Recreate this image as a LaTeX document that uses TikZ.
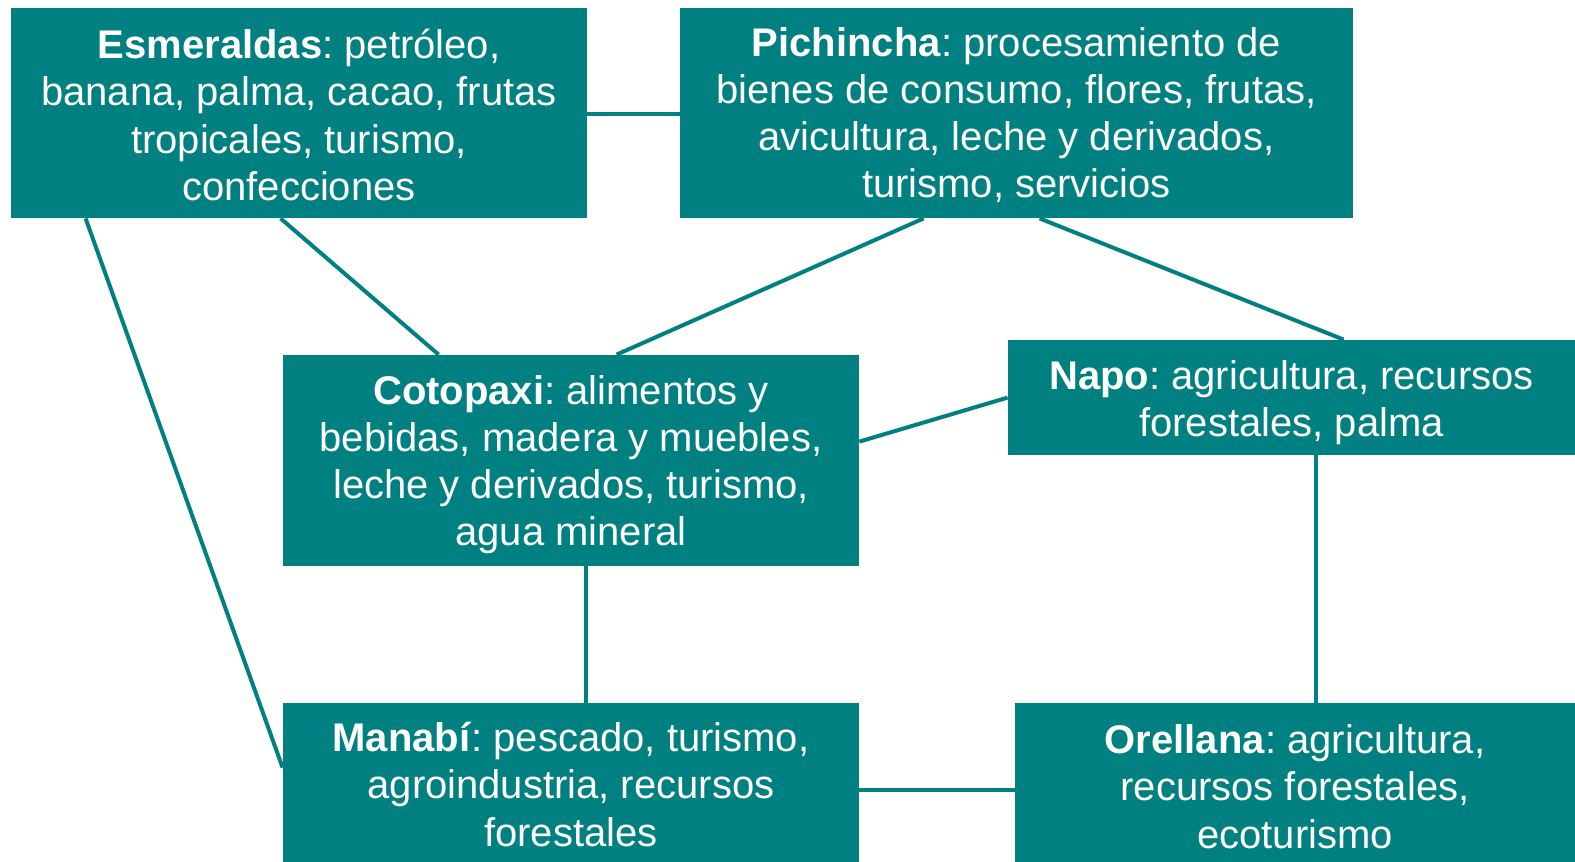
\documentclass[tikz,border=0pt]{standalone}
\usepackage{fontspec}
\setmainfont{Liberation Sans}
\frenchspacing
\definecolor{teal1}{RGB}{0,128,128}
\begin{document}
\begin{tikzpicture}[x=0.5pt,y=-0.5pt,
  box/.style={fill=teal1, inner sep=0pt},
  txt/.style={text=white, inner sep=0pt, align=center,
    font=\fontsize{20pt}{23.6pt}\selectfont},
  link/.style={draw=teal1, line width=2pt}]
\useasboundingbox (0,0) rectangle (1575,862);
\node[box, minimum width=288pt, minimum height=105pt,
  label={[txt,yshift=-1pt]center:\textbf{Esmeraldas}: petróleo,\\banana, palma, cacao, frutas\\tropicales, turismo,\\confecciones}] (esm) at (299,113) {};
\node[box, minimum width=336.5pt, minimum height=105pt,
  label={[txt,yshift=-1pt]center:\textbf{Pichincha}: procesamiento de\\bienes de consumo, flores, frutas,\\avicultura, leche y derivados,\\turismo, servicios}] (pich) at (1016.5,113) {};
\node[box, minimum width=288pt, minimum height=105.5pt,
  label={[txt,yshift=-2pt]center:\textbf{Cotopaxi}: alimentos y\\bebidas, madera y muebles,\\leche y derivados, turismo,\\agua mineral}] (coto) at (571,460.5) {};
\node[box, minimum width=283.5pt, minimum height=57.5pt,
  label={[txt,yshift=-2.5pt]center:\textbf{Napo}: agricultura, recursos\\forestales, palma}] (napo) at (1291.5,397.5) {};
\node[box, minimum width=288pt, minimum height=79.5pt,
  label={[txt,yshift=-1pt]center:\textbf{Manabí}: pescado, turismo,\\agroindustria, recursos\\forestales}] (mana) at (571,782.5) {};
\node[box, minimum width=280pt, minimum height=79.5pt,
  label={[txt,yshift=-2pt]center:\textbf{Orellana}: agricultura,\\recursos forestales,\\ecoturismo}] (orel) at (1295,782.5) {};
\draw[link] ([yshift=-53pt]esm.north east) -- ([yshift=-53pt]pich.north west);
\draw[link] ([xshift=135pt]esm.south west) -- ([xshift=78pt]coto.north west);
\draw[link] ([xshift=37.5pt]esm.south west) -- ([yshift=-32.5pt]mana.north west);
\draw[link] ([xshift=122pt]pich.south west) -- ([xshift=167pt]coto.north west);
\draw[link] ([xshift=180pt]pich.south west) -- ([xshift=168pt]napo.north west);
\draw[link] ([yshift=-43.5pt]coto.north east) -- ([yshift=-29pt]napo.north west);
\draw[link] ([xshift=151.5pt]coto.south west) -- ([xshift=151.5pt]mana.north west);
\draw[link] ([xshift=154pt]napo.south west) -- ([xshift=150.5pt]orel.north west);
\draw[link] ([yshift=-43.5pt]mana.north east) -- ([yshift=-43.5pt]orel.north west);
\end{tikzpicture}
\end{document}
